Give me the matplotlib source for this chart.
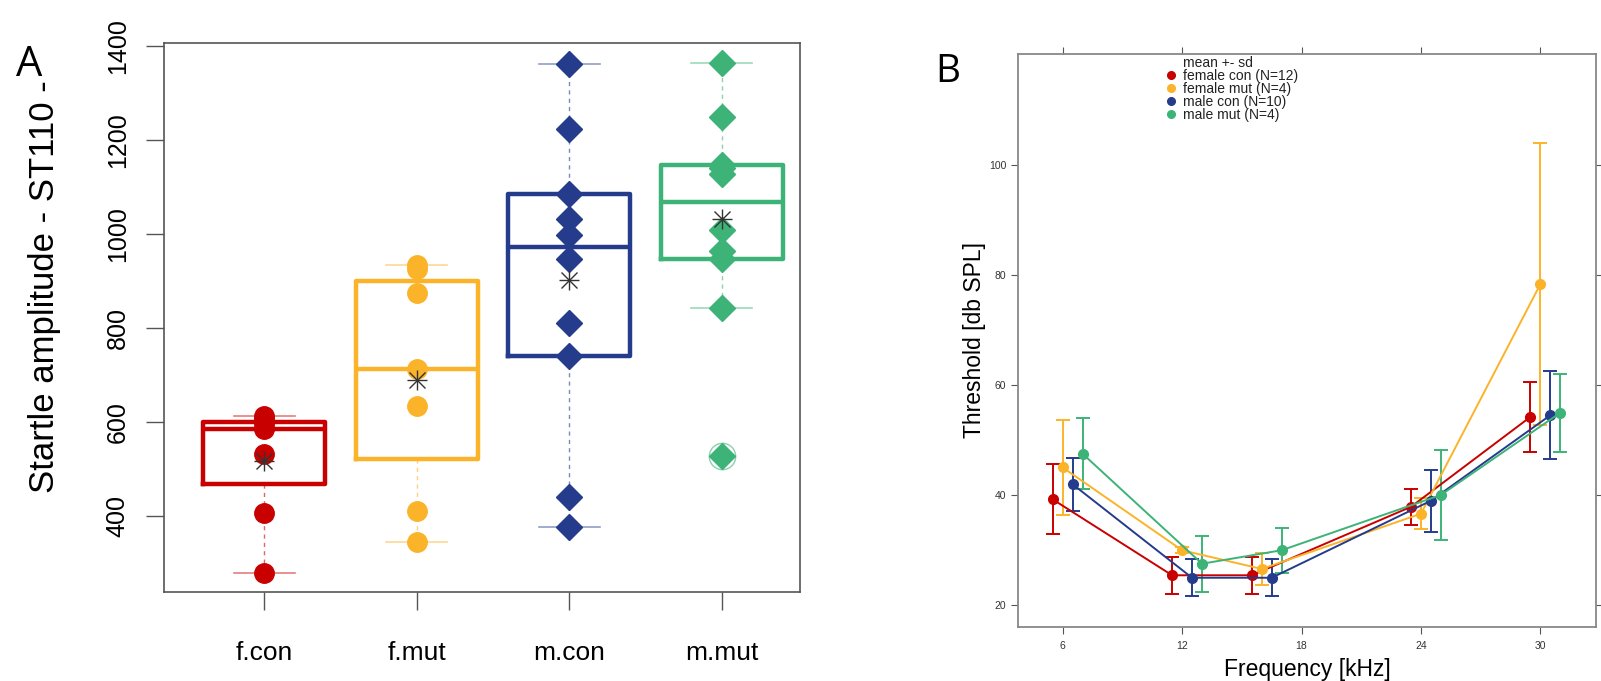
import numpy as np
import matplotlib
matplotlib.use("Agg")
import matplotlib.pyplot as plt
from matplotlib.lines import Line2D

plt.rcParams['font.family'] = ['Liberation Sans', 'DejaVu Sans']

# ---------------- Panel A data ----------------
groups = ["f.con", "f.mut", "m.con", "m.mut"]
fcon_vals = [279, 405, 531, 585, 595, 605, 612]
fmut_vals = [344, 410, 633, 712, 873, 924, 933]
mcon_vals = [376, 441, 740, 811, 947, 998, 1032, 1084, 1222, 1360]
mmut_vals = [527, 841, 947, 963, 1007, 1127, 1140, 1146, 1248, 1363]
a_yticks = [400, 600, 800, 1000, 1200, 1400]

# ---------------- Panel B data ----------------
freqs = [6, 12, 16, 24, 30]
freq_ticks = [6, 12, 18, 24, 30]
thr_ticks = [20, 40, 60, 80, 100]
series_labels = ["female con (N=12)", "female mut (N=4)", "male con (N=10)", "male mut (N=4)"]
fcon_mean = [39.25, 25.45, 25.45, 37.9, 54.25]
fcon_sd = [6.35, 3.35, 3.35, 3.3, 6.35]
fmut_mean = [45.05, 30.0, 26.6, 36.65, 78.4]
fmut_sd = [8.65, 0.5, 2.95, 2.85, 25.6]
mcon_mean = [42.0, 25.0, 25.0, 39.0, 54.55]
mcon_sd = [4.8, 3.35, 3.35, 5.6, 7.95]
mmut_mean = [47.55, 27.55, 30.0, 40.05, 55.0]
mmut_sd = [6.45, 5.05, 4.1, 8.15, 7.1]

RED = "#C80000"
ORANGE = "#FBB32A"
BLUE = "#253C8C"
GREEN = "#3DB378"
colors = [RED, ORANGE, BLUE, GREEN]

fig = plt.figure(figsize=(16.01, 6.81), dpi=100)

# ================= Panel A =================
axA = fig.add_axes([0.1027, 0.1307, 0.3967, 0.8057])
data_a = [fcon_vals, fmut_vals, mcon_vals, mmut_vals]
markers = ['o', 'o', 'D', 'D']


def fivenum(v):
    v = np.sort(np.asarray(v, dtype=float))
    n = len(v)
    n4 = np.floor((n + 3) / 2) / 2
    d = np.array([1, n4, (n + 1) / 2, n + 1 - n4, n]) - 1
    return 0.5 * (v[np.floor(d).astype(int)] + v[np.ceil(d).astype(int)])


for i, (vals, col, mk) in enumerate(zip(data_a, colors, markers)):
    pos = i + 1
    v = np.asarray(vals, float)
    mn, q1, med, q3, mx = fivenum(v)
    iqr = q3 - q1
    lo_lim, hi_lim = q1 - 1.5 * iqr, q3 + 1.5 * iqr
    inside = v[(v >= lo_lim) & (v <= hi_lim)]
    wlo, whi = inside.min(), inside.max()
    fliers = v[(v < lo_lim) | (v > hi_lim)]
    stats = [dict(med=med, q1=q1, q3=q3, whislo=wlo, whishi=whi, fliers=fliers, mean=v.mean())]
    axA.bxp(stats, positions=[pos], widths=0.8, showfliers=True, showmeans=False,
            boxprops=dict(color=col, linewidth=3.2),
            medianprops=dict(color=col, linewidth=3.2),
            whiskerprops=dict(color=col, linewidth=1.0, linestyle=(0, (3, 3)), alpha=0.6),
            capprops=dict(color=col, linewidth=1.2, alpha=0.5),
            capwidths=0.4,
            flierprops=dict(marker='o', markerfacecolor='none', markeredgecolor=col,
                            markersize=19, alpha=0.6, markeredgewidth=1.0))
    axA.plot(np.full(len(v), pos), v, linestyle='none', marker=mk, color=col,
             markersize=14 if mk == 'o' else 13.5, zorder=4)
    axA.plot([pos], [v.mean()], marker='+', color='#333333', markersize=15, mew=1.0, zorder=5)
    axA.plot([pos], [v.mean()], marker='x', color='#333333', markersize=11, mew=1.0, zorder=5)

axA.set_xlim(0.344, 4.51)
axA.set_ylim(238, 1405)
axA.set_xticks([1, 2, 3, 4])
axA.set_xticklabels(groups, fontsize=19)
axA.set_yticks(a_yticks)
axA.set_yticklabels([str(t) for t in a_yticks], rotation=90, va='center', fontsize=18)
axA.tick_params(axis='both', length=13, width=1.0, color='#555555')
axA.tick_params(axis='x', pad=22)
axA.tick_params(axis='y', pad=12)
for s in axA.spines.values():
    s.set_color('#555555')
    s.set_linewidth(1.2)
axA.set_ylabel("Startle amplitude - ST110 -", fontsize=25)
axA.yaxis.set_label_coords(-0.163, 0.557)
fig.text(0.018, 0.905, "A", fontsize=30, ha='center', va='center', family='Open Sans')

# ================= Panel B =================
axB = fig.add_axes([0.636, 0.0793, 0.361, 0.8414])
offsets = [-0.5, 0.0, 0.5, 1.0]
means_b = [fcon_mean, fmut_mean, mcon_mean, mmut_mean]
sds_b = [fcon_sd, fmut_sd, mcon_sd, mmut_sd]
for m, s, col, off in zip(means_b, sds_b, colors, offsets):
    x = np.asarray(freqs, float) + off
    axB.errorbar(x, m, yerr=s, color=col, marker='o', markersize=7, linewidth=1.4,
                 elinewidth=1.4, capsize=5, capthick=1.4)

axB.set_xlim(3.77, 32.8)
axB.set_ylim(16.05, 120.2)
axB.set_xticks(freq_ticks)
axB.set_yticks(thr_ticks)
axB.tick_params(axis='both', labelsize=7.5, length=5, width=0.8, color='#555555',
                labelcolor='#333333', top=True, right=True, direction='out')
axB.tick_params(axis='x', pad=5)
for s in axB.spines.values():
    s.set_color('#888888')
    s.set_linewidth(1.3)
axB.set_xlabel("Frequency [kHz]", fontsize=16.5, labelpad=5)
axB.set_ylabel("Threshold [db SPL]", fontsize=16.5, labelpad=2)

handles = [Line2D([], [], linestyle='none', marker=None, label="mean +- sd")]
for col, lab in zip(colors, series_labels):
    handles.append(Line2D([], [], linestyle='none', marker='o', color=col, markersize=5.5, label=lab))
leg = axB.legend(handles=handles, loc='upper left', bbox_to_anchor=(0.235, 1.013), frameon=False,
                 fontsize=10, labelspacing=-0.08, handletextpad=0.4, handlelength=1.0,
                 borderpad=0.2)
for t in leg.get_texts():
    t.set_color('#222222')

fig.text(0.592, 0.895, "B", fontsize=28, ha='center', va='center', family='Open Sans')

fig.savefig("out.png", dpi=100)
